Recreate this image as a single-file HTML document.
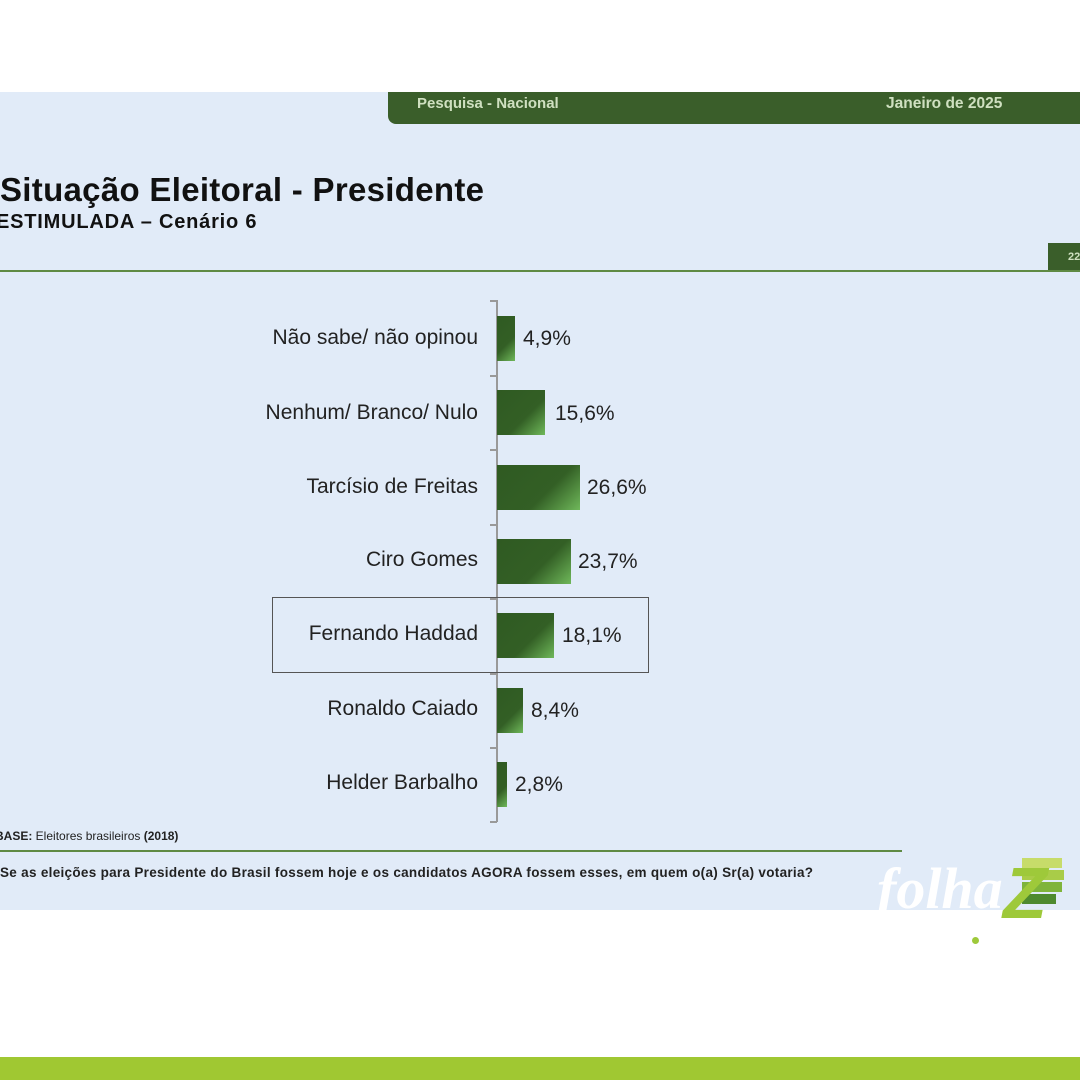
<!DOCTYPE html>
<html><head><meta charset="utf-8"><style>
body{margin:0;width:1080px;height:1080px;background:#fff;position:relative;overflow:hidden;font-family:"Liberation Sans",Arial,sans-serif}
.a{position:absolute}
.bg{left:0;top:92px;width:1080px;height:818px;background:#e1ebf8}
.hdr{left:388px;top:92px;width:692px;height:32px;background:#3a5e2a;border-bottom-left-radius:8px;color:#cfe0c0;font-weight:bold;font-size:15px}
.lab{width:478px;text-align:right;font-size:21px;color:#222;left:0}
.bar{left:497px;height:45px;background:linear-gradient(135deg,#2f5a22 0%,#335f25 60%,#6fb85a 100%)}
.val{font-size:21px;color:#222}
.tick{left:490px;width:7px;height:2px;background:#999}
</style></head><body>
<div class="a bg"></div>
<div class="a hdr"><span class="a" style="left:29px;top:3px">Pesquisa - Nacional</span><span class="a" style="left:498px;top:3px;font-size:15.5px">Janeiro de 2025</span></div>
<div class="a" style="left:0;top:171px;font-size:33px;font-weight:bold;color:#111;letter-spacing:0.3px">Situação Eleitoral - Presidente</div>
<div class="a" style="left:-4px;top:211px;font-size:20px;font-weight:bold;color:#111;letter-spacing:0.8px">ESTIMULADA – Cenário 6</div>
<div class="a" style="left:1048px;top:243px;width:32px;height:28px;background:#3a5e2a;color:#cfe0c0;font-size:11px;font-weight:bold"><span class="a" style="left:20px;top:8px">22</span></div>
<div class="a" style="left:0;top:270px;width:1080px;height:2px;background:#5f8a44"></div>
<div class="a" style="left:496px;top:300px;width:2px;height:522px;background:#999"></div>
<div class="a tick" style="top:300px"></div><div class="a tick" style="top:375px"></div><div class="a tick" style="top:449px"></div><div class="a tick" style="top:524px"></div><div class="a tick" style="top:598px"></div><div class="a tick" style="top:673px"></div><div class="a tick" style="top:747px"></div><div class="a tick" style="top:821px"></div>

<div class="a lab" style="top:326px">Não sabe/ não opinou</div><div class="a bar" style="top:316px;width:18px"></div><div class="a val" style="left:523px;top:327px">4,9%</div>
<div class="a lab" style="top:401px">Nenhum/ Branco/ Nulo</div><div class="a bar" style="top:390px;width:48px"></div><div class="a val" style="left:555px;top:402px">15,6%</div>
<div class="a lab" style="top:475px">Tarcísio de Freitas</div><div class="a bar" style="top:465px;width:83px"></div><div class="a val" style="left:587px;top:476px">26,6%</div>
<div class="a lab" style="top:548px">Ciro Gomes</div><div class="a bar" style="top:539px;width:74px"></div><div class="a val" style="left:578px;top:550px">23,7%</div>
<div class="a lab" style="top:622px">Fernando Haddad</div><div class="a bar" style="top:613px;width:57px"></div><div class="a val" style="left:562px;top:624px">18,1%</div>
<div class="a lab" style="top:697px">Ronaldo Caiado</div><div class="a bar" style="top:688px;width:26px"></div><div class="a val" style="left:531px;top:699px">8,4%</div>
<div class="a lab" style="top:771px">Helder Barbalho</div><div class="a bar" style="top:762px;width:10px"></div><div class="a val" style="left:515px;top:773px">2,8%</div>
<div class="a" style="left:272px;top:597px;width:375px;height:74px;border:1.5px solid #555"></div>

<div class="a" style="left:-5px;top:829px;font-size:12px;color:#222"><b>BASE:</b> Eleitores brasileiros <b>(2018)</b></div>
<div class="a" style="left:0;top:850px;width:902px;height:2px;background:#5f8a44"></div>
<div class="a" style="left:0;top:865px;font-size:13.5px;font-weight:bold;color:#222;letter-spacing:0.3px">Se as eleições para Presidente do Brasil fossem hoje e os candidatos AGORA fossem esses, em quem o(a) Sr(a) votaria?</div>

<div class="a" style="left:1022px;top:858px;width:40px;height:10px;background:#c7dc6a"></div>
<div class="a" style="left:1022px;top:870px;width:42px;height:10px;background:#a9cc48"></div>
<div class="a" style="left:1022px;top:882px;width:40px;height:10px;background:#7fb43b"></div>
<div class="a" style="left:1022px;top:894px;width:34px;height:10px;background:#4e8a2f"></div>
<div class="a" style="left:877px;top:860px;font-family:'Liberation Serif',serif;font-style:italic;font-size:58px;color:#fff;font-weight:bold;line-height:1">folha</div>
<div class="a" style="left:1003px;top:858px;font-size:72px;font-weight:bold;font-style:italic;color:#9ec93a;line-height:1">Z</div>
<div class="a" style="left:972px;top:937px;width:7px;height:7px;border-radius:50%;background:#9ec93a"></div>
<div class="a" style="left:0;top:1057px;width:1080px;height:23px;background:#a0c832"></div>
</body></html>
